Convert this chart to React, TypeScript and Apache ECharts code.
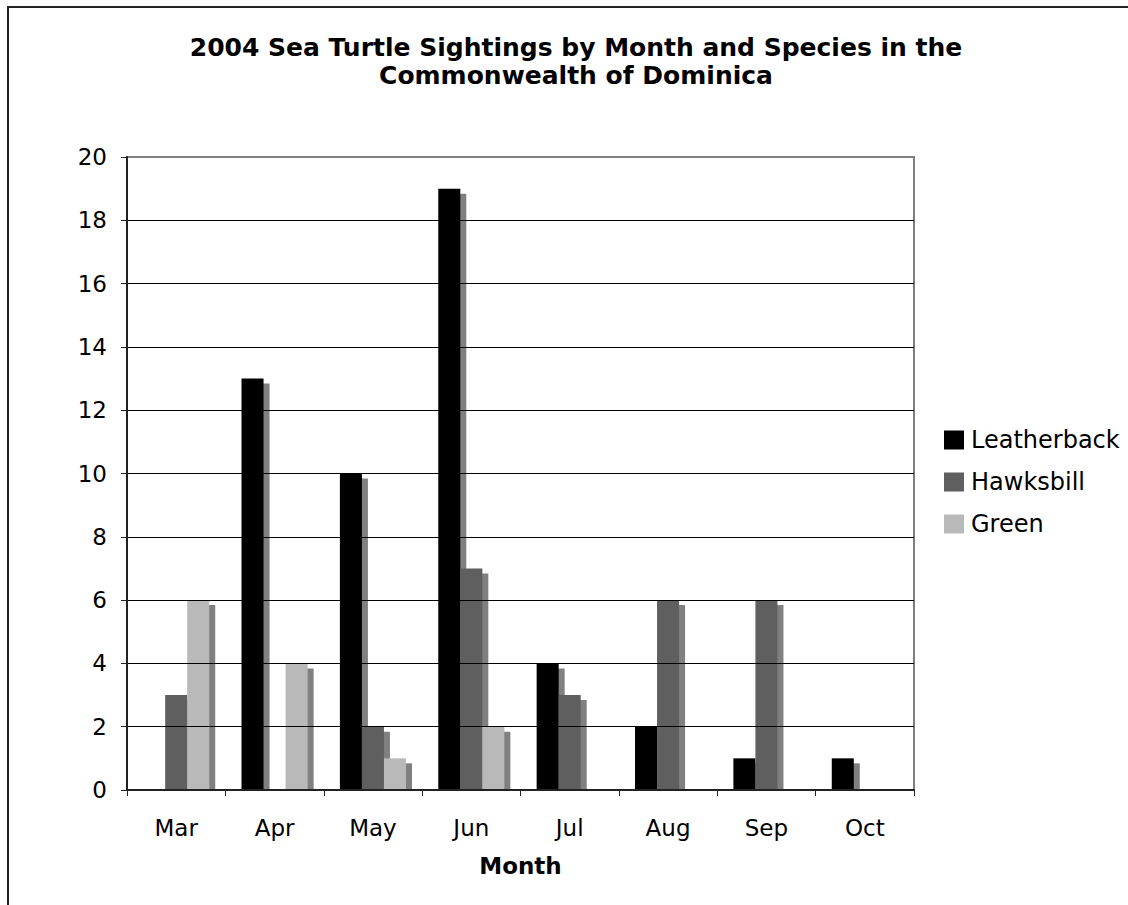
import React, { useEffect, useRef } from "react";
import * as echarts from "echarts";

const months = ["Mar", "Apr", "May", "Jun", "Jul", "Aug", "Sep", "Oct"];
const speciesNames = ["Leatherback", "Hawksbill", "Green"];
const leatherback = [0, 13, 10, 19, 4, 2, 1, 1];
const hawksbill = [3, 0, 2, 7, 3, 6, 6, 0];
const green = [6, 4, 1, 2, 0, 0, 0, 0];
const yTicks = { min: 0, max: 20, interval: 2 };
const titleLines = ["2004 Sea Turtle Sightings by Month and Species in the", "Commonwealth of Dominica"];
const xAxisTitle = "Month";

const seriesValues = [leatherback, hawksbill, green];
const seriesColors = ["#000000", "#5f5f5f", "#b9b9b9"];
const SHADOW_COLOR = "#808080";
const BAR_FRAC = 0.224;
const SHADOW_DX = 6;
const SHADOW_DY = 5;
const FONT = "'DejaVu Sans', Verdana, sans-serif";

export default function App() {
  const ref = useRef<HTMLDivElement>(null);
  useEffect(() => {
    if (!ref.current) return;
    const chart = echarts.init(ref.current, null, { renderer: "svg" });

    const splitColors: string[] = [];
    const nLines = (yTicks.max - yTicks.min) / yTicks.interval + 1;
    for (let i = 0; i < nLines; i++) splitColors.push(i === nLines - 1 ? "#808080" : "#000000");

    const barSeries = seriesValues.map((vals, s) => ({
      type: "bar",
      name: speciesNames[s],
      data: vals,
      barWidth: BAR_FRAC * 100 + "%",
      barGap: "0%",
      z: 3,
      itemStyle: { color: seriesColors[s] },
    }));

    const shadowSeries = seriesValues.map((vals, s) => ({
      type: "custom",
      name: speciesNames[s] + " shadow",
      z: 2,
      silent: true,
      data: vals.map((v, i) => [i, v]),
      encode: { x: 0, y: 1 },
      renderItem: (params: any, api: any) => {
        const v = api.value(1);
        if (!v) return null;
        const cat = api.value(0);
        const top = api.coord([cat, v]);
        const base = api.coord([cat, 0]);
        const catW = api.size([1, 0])[0];
        const bw = catW * BAR_FRAC;
        const x = top[0] - 1.5 * bw + s * bw + SHADOW_DX;
        return {
          type: "rect",
          shape: { x, y: top[1] + SHADOW_DY, width: bw, height: base[1] - top[1] - SHADOW_DY },
          style: { fill: SHADOW_COLOR },
        };
      },
    }));

    chart.setOption({
      animation: false,
      backgroundColor: "#ffffff",
      textStyle: { fontFamily: FONT },
      graphic: [
        {
          type: "rect",
          shape: { x: 8, y: 7, width: 1300, height: 1100 },
          style: { fill: "none", stroke: "#222", lineWidth: 2 },
          silent: true,
          z: 0,
        },
        {
          type: "text",
          x: 576,
          y: 61,
          style: {
            text: titleLines.join("\n"),
            font: "bold 25px " + FONT,
            fill: "#000",
            align: "center",
            verticalAlign: "middle",
            lineHeight: 28,
          },
        },
      ],
      legend: {
        data: speciesNames,
        orient: "vertical",
        left: 944,
        top: 428,
        itemWidth: 20,
        itemHeight: 19,
        itemGap: 18,
        icon: "rect",
        textStyle: { fontFamily: FONT, fontSize: 24, color: "#000", padding: [0, 0, 0, 2] },
        padding: 0,
      },
      grid: {
        left: 127,
        top: 157,
        width: 787,
        height: 633,
        show: true,
        borderColor: "#808080",
        borderWidth: 2,
        backgroundColor: "transparent",
      },
      xAxis: {
        type: "category",
        data: months,
        name: xAxisTitle,
        nameLocation: "middle",
        nameGap: 64,
        nameTextStyle: { fontFamily: FONT, fontSize: 23, fontWeight: "bold", color: "#000" },
        axisLine: { lineStyle: { color: "#222", width: 2 } },
        axisTick: { show: true, length: 6, lineStyle: { color: "#222" } },
        axisLabel: { fontFamily: FONT, fontSize: 23, color: "#000", margin: 26 },
        z: 5,
      },
      yAxis: {
        type: "value",
        min: yTicks.min,
        max: yTicks.max,
        interval: yTicks.interval,
        axisLine: { show: true, lineStyle: { color: "#222", width: 2 } },
        axisTick: { show: true, length: 6, lineStyle: { color: "#222" } },
        axisLabel: { fontFamily: FONT, fontSize: 23, color: "#000", margin: 20 },
        splitLine: { show: true, lineStyle: { color: splitColors, width: 1 } },
        z: 5,
      },
      series: [...shadowSeries, ...barSeries],
    });
    return () => chart.dispose();
  }, []);
  return <div ref={ref} style={{ position: "absolute", left: 0, top: 0, width: 1128, height: 905 }} />;
}
